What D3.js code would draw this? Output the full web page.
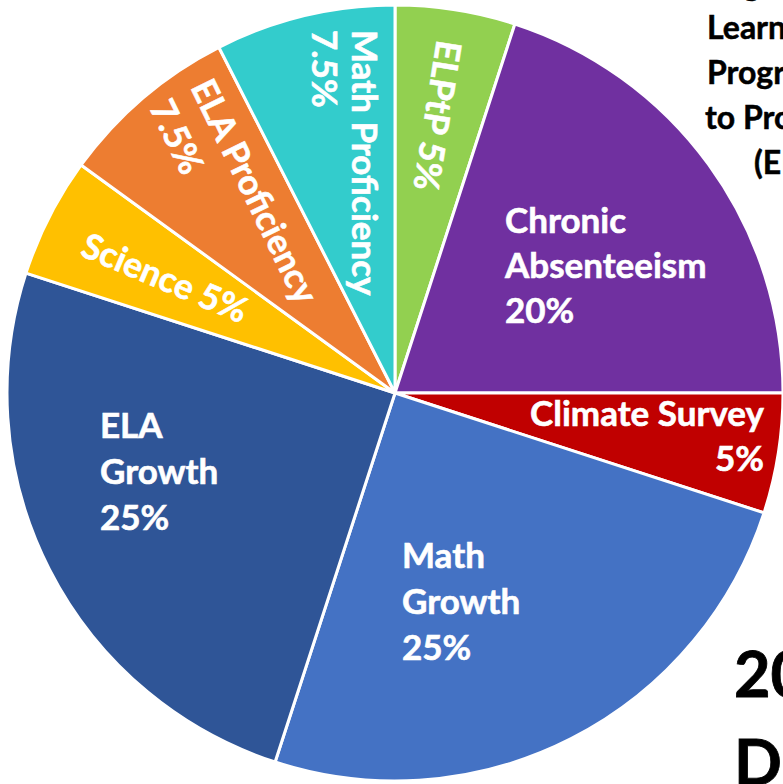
<!DOCTYPE html>
<html>
<head>
<meta charset="utf-8">
<script src="https://cdn.jsdelivr.net/npm/d3@7"></script>
<style>
  html, body { margin: 0; padding: 0; background: #fff; overflow: hidden; }
  svg { display: block; }
  text { font-family: Lato, "Open Sans", sans-serif; font-weight: 700; }
</style>
</head>
<body>
<div id="container"></div>
<script>
// slices, clockwise from 12 o'clock
const categories = ['ELPtP', 'Chronic Absenteeism', 'Climate Survey', 'Math Growth',
  'ELA Growth', 'Science', 'ELA Proficiency', 'Math Proficiency'];
const weights = [5, 20, 5, 25, 25, 5, 7.5, 7.5];
const sliceColors = ['#92D050', '#7030A0', '#C00000', '#4472C4',
  '#2F5597', '#FFC000', '#ED7D31', '#33CCCC'];
// label lines as printed on the slices
const labelLines = [
  ['ELPtP 5%'],
  ['Chronic', 'Absenteeism', '20%'],
  ['Climate Survey', '5%'],
  ['Math', 'Growth', '25%'],
  ['ELA', 'Growth', '25%'],
  ['Science 5%'],
  ['ELA Proficiency', '7.5%'],
  ['Math Proficiency', '7.5%']
];
// slide text around the chart, cut off by the right edge
const sideLines = ['English', 'Learner', 'Progress', 'to Proficiency', '(ELPtP)'];
const sideX = [707, 707, 707, 705, 754];
const bigLines = ['20', 'D'];

const w = 783;
const h = 784;
const cx = 395;
const cy = 393;
const r = 388;

// label placement: baseline start relative to pie centre, rotation, anchor, line step
const labelLayout = [
  { x: 42, y: -354, rot: 99, anchor: 'start', step: 46 },
  { x: 110, y: -160, rot: 0, anchor: 'start', step: 45 },
  { x: 369, y: 33, rot: 0, anchor: 'end', step: 45 },
  { x: 7, y: 175, rot: 0, anchor: 'start', step: 46 },
  { x: -295, y: 45, rot: 0, anchor: 'start', step: 46 },
  { x: -316, y: -138, rot: 23, anchor: 'start', step: 46 },
  { x: -205, y: -306, rot: 64, anchor: 'start', step: 46 },
  { x: -43, y: -363, rot: 90, anchor: 'start', step: 40 }
];

const svg = d3.select('#container')
  .append('svg')
  .attr('width', w)
  .attr('height', h);

const pie = d3.pie().sort(null).value(d => d);
const arcs = pie(weights);
const arc = d3.arc().innerRadius(0).outerRadius(r);

const g = svg.append('g').attr('transform', `translate(${cx},${cy})`);

g.selectAll('path')
  .data(arcs)
  .enter()
  .append('path')
  .attr('d', arc)
  .attr('fill', (d, i) => sliceColors[i])
  .attr('stroke', '#fff')
  .attr('stroke-width', 3)
  .attr('stroke-linejoin', 'round')
  .append('title')
  .text((d, i) => `${categories[i]}: ${weights[i]}%`);

const labels = g.selectAll('g.label')
  .data(labelLines)
  .enter()
  .append('g')
  .attr('class', 'label')
  .attr('transform', (d, i) => {
    const l = labelLayout[i];
    return `translate(${l.x},${l.y}) rotate(${l.rot})`;
  });

labels.each(function (lines, i) {
  const l = labelLayout[i];
  d3.select(this).selectAll('text')
    .data(lines)
    .enter()
    .append('text')
    .attr('x', 0)
    .attr('y', (d, j) => j * l.step)
    .attr('text-anchor', l.anchor)
    .attr('fill', '#fff')
    .attr('stroke', '#fff')
    .attr('stroke-width', 0.6)
    .attr('font-size', 35)
    .text(d => d);
});

svg.append('g')
  .selectAll('text')
  .data(sideLines)
  .enter()
  .append('text')
  .attr('x', (d, i) => sideX[i])
  .attr('y', (d, i) => (i === 0 ? -4 : 39 + (i - 1) * 45))
  .attr('fill', '#000')
  .attr('stroke', '#000')
  .attr('stroke-width', 0.5)
  .attr('font-size', 32)
  .text(d => d);

svg.append('g')
  .selectAll('text')
  .data(bigLines)
  .enter()
  .append('text')
  .attr('x', 734)
  .attr('y', (d, i) => 697 + i * 88)
  .attr('fill', '#000')
  .attr('stroke', '#000')
  .attr('stroke-width', 0.8)
  .attr('font-size', 63)
  .text(d => d);
</script>
</body>
</html>
